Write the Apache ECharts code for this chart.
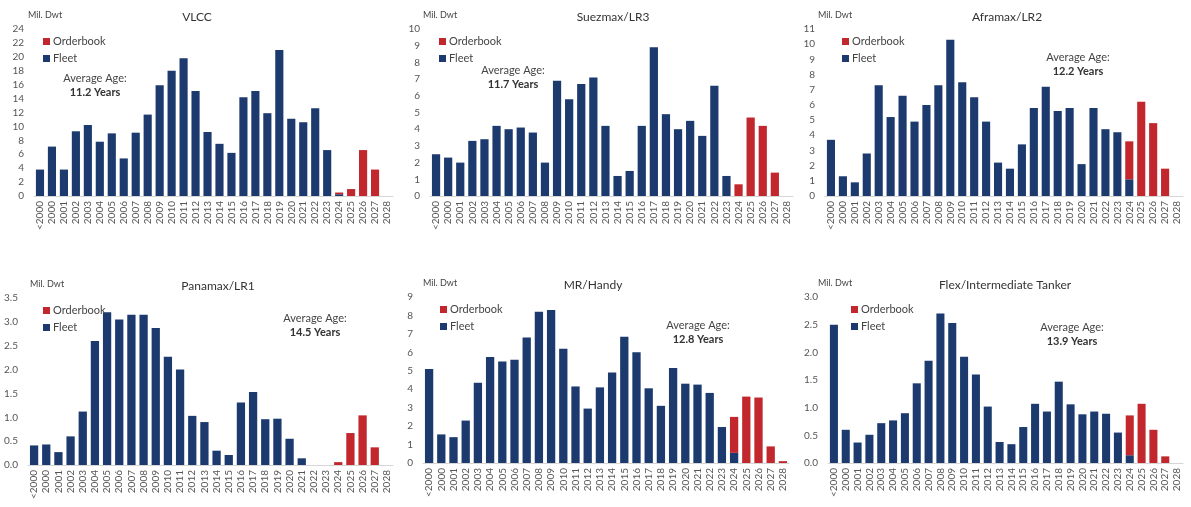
<!DOCTYPE html>
<html>
<head>
<meta charset="utf-8">
<script src="https://cdn.jsdelivr.net/npm/echarts@6/dist/echarts.min.js"></script>
<style>
  html, body { margin: 0; padding: 0; background: #fff; }
  #chart { width: 1191px; height: 507px; }
</style>
</head>
<body>
<div id="chart"></div>
<script>
const categories = ["<2000", "2000", "2001", "2002", "2003", "2004", "2005", "2006", "2007", "2008", "2009",
  "2010", "2011", "2012", "2013", "2014", "2015", "2016", "2017", "2018", "2019",
  "2020", "2021", "2022", "2023", "2024", "2025", "2026", "2027", "2028"];

const vlccFleet = [3.8, 7.1, 3.8, 9.3, 10.2, 7.8, 9.0, 5.4, 9.1, 11.7, 15.9, 18.0, 19.8, 15.1, 9.2, 7.5, 6.2, 14.2, 15.1, 11.9, 21.0, 11.1, 10.6, 12.6, 6.6, 0.25, 0, 0, 0, 0];
const vlccOrder = [0, 0, 0, 0, 0, 0, 0, 0, 0, 0, 0, 0, 0, 0, 0, 0, 0, 0, 0, 0, 0, 0, 0, 0, 0, 0.25, 1.0, 6.6, 3.8, 0];

const suezFleet = [2.5, 2.3, 2.0, 3.3, 3.4, 4.2, 4.0, 4.1, 3.8, 2.0, 6.9, 5.8, 6.7, 7.1, 4.2, 1.2, 1.5, 4.2, 8.9, 4.9, 4.0, 4.5, 3.6, 6.6, 1.2, 0, 0, 0, 0, 0];
const suezOrder = [0, 0, 0, 0, 0, 0, 0, 0, 0, 0, 0, 0, 0, 0, 0, 0, 0, 0, 0, 0, 0, 0, 0, 0, 0, 0.7, 4.7, 4.2, 1.4, 0];

const afraFleet = [3.7, 1.3, 0.9, 2.8, 7.3, 5.2, 6.6, 4.9, 6.0, 7.3, 10.3, 7.5, 6.5, 4.9, 2.2, 1.8, 3.4, 5.8, 7.2, 5.6, 5.8, 2.1, 5.8, 4.4, 4.2, 1.1, 0, 0, 0, 0];
const afraOrder = [0, 0, 0, 0, 0, 0, 0, 0, 0, 0, 0, 0, 0, 0, 0, 0, 0, 0, 0, 0, 0, 0, 0, 0, 0, 2.5, 6.2, 4.8, 1.8, 0];

const panaFleet = [0.41, 0.43, 0.27, 0.6, 1.12, 2.6, 3.2, 3.05, 3.15, 3.15, 2.87, 2.27, 2.0, 1.03, 0.9, 0.3, 0.21, 1.31, 1.53, 0.96, 0.97, 0.55, 0.14, 0, 0, 0, 0, 0, 0, 0];
const panaOrder = [0, 0, 0, 0, 0, 0, 0, 0, 0, 0, 0, 0, 0, 0, 0, 0, 0, 0, 0, 0, 0, 0, 0, 0, 0, 0.06, 0.67, 1.04, 0.37, 0];

const mrFleet = [5.1, 1.55, 1.4, 2.3, 4.35, 5.75, 5.5, 5.6, 6.8, 8.2, 8.3, 6.2, 4.15, 2.95, 4.1, 4.9, 6.85, 6.0, 4.05, 3.1, 5.15, 4.3, 4.25, 3.8, 1.95, 0.55, 0, 0, 0, 0];
const mrOrder = [0, 0, 0, 0, 0, 0, 0, 0, 0, 0, 0, 0, 0, 0, 0, 0, 0, 0, 0, 0, 0, 0, 0, 0, 0, 1.95, 3.6, 3.55, 0.9, 0.1];

const flexFleet = [2.5, 0.6, 0.37, 0.51, 0.72, 0.77, 0.9, 1.44, 1.85, 2.7, 2.53, 1.92, 1.6, 1.02, 0.38, 0.34, 0.65, 1.07, 0.93, 1.47, 1.06, 0.88, 0.93, 0.89, 0.55, 0.14, 0, 0, 0, 0];
const flexOrder = [0, 0, 0, 0, 0, 0, 0, 0, 0, 0, 0, 0, 0, 0, 0, 0, 0, 0, 0, 0, 0, 0, 0, 0, 0, 0.72, 1.07, 0.6, 0.12, 0];

const panelTitles = ["VLCC", "Suezmax/LR3", "Aframax/LR2", "Panamax/LR1", "MR/Handy", "Flex/Intermediate Tanker"];
const averageAges = ["11.2 Years", "11.7 Years", "12.2 Years", "14.5 Years", "12.8 Years", "13.9 Years"];
const yMax = [24, 10, 11, 3.5, 9, 3.0];
const yStep = [2, 1, 1, 0.5, 1, 0.5];
const yDecimals = [0, 0, 0, 1, 0, 1];
const fleetData = [vlccFleet, suezFleet, afraFleet, panaFleet, mrFleet, flexFleet];
const orderData = [vlccOrder, suezOrder, afraOrder, panaOrder, mrOrder, flexOrder];

const FLEET = "#1c3a6e";
const ORDER = "#c1272d";
const FONT = "Lato, 'Open Sans', sans-serif";

// layout of each panel (plot box in px)
const boxes = [
  { left: 34, top: 29, width: 359, height: 167, title: 197, age: [95, 78], legend: 38, unit: 28 },
  { left: 430, top: 29, width: 363, height: 167, title: 613, age: [513, 70], legend: 434, unit: 423 },
  { left: 825, top: 29, width: 358, height: 167, title: 1007, age: [1078, 57], legend: 837, unit: 818 },
  { left: 28, top: 298, width: 365, height: 167, title: 218, age: [315, 318], legend: 38, unit: 30 },
  { left: 423, top: 297, width: 366, height: 166, title: 593, age: [698, 325], legend: 435, unit: 423 },
  { left: 828, top: 297, width: 355, height: 166, title: 1005, age: [1072, 327], legend: 846, unit: 818 }
];

const grid = [], xAxis = [], yAxis = [], series = [], legend = [], graphic = [];

boxes.forEach((b, i) => {
  grid.push({ left: b.left, top: b.top, width: b.width, height: b.height });
  xAxis.push({
    type: "category",
    gridIndex: i,
    data: categories,
    axisTick: { show: false },
    axisLine: { lineStyle: { color: "#d6d6d6", width: 1 } },
    axisLabel: { interval: 0, rotate: 90, color: "#555", fontSize: 10, fontFamily: FONT, margin: 5 }
  });
  yAxis.push({
    type: "value",
    gridIndex: i,
    min: 0,
    max: yMax[i],
    interval: yStep[i],
    splitLine: { show: false },
    axisLine: { show: false },
    axisTick: { show: false },
    axisLabel: {
      color: "#555", fontSize: 10, fontFamily: FONT, margin: 10,
      formatter: (v) => v.toFixed(yDecimals[i])
    }
  });
  series.push({
    name: "Fleet", type: "bar", xAxisIndex: i, yAxisIndex: i, stack: "s" + i,
    data: fleetData[i], barWidth: "68%", itemStyle: { color: FLEET }
  });
  series.push({
    name: "Orderbook", type: "bar", xAxisIndex: i, yAxisIndex: i, stack: "s" + i,
    data: orderData[i], barWidth: "68%", itemStyle: { color: ORDER }
  });
  legend.push({
    data: ["Orderbook", "Fleet"],
    orient: "vertical",
    left: b.legend,
    top: b.top + 2,
    icon: "rect",
    itemWidth: 7,
    itemHeight: 7,
    itemGap: 6,
    selectedMode: false,
    textStyle: { color: "#444", fontSize: 11, fontFamily: FONT, padding: [0, 0, 0, -2] }
  });
  // text elements centred on their x
  graphic.push({
    type: "text", x: b.title, y: b.top - 12,
    style: { text: panelTitles[i], fill: "#333", font: "12px " + FONT, align: "center", verticalAlign: "middle" }
  });
  graphic.push({
    type: "text", x: b.unit, y: b.top - 14,
    style: { text: "Mil. Dwt", fill: "#444", font: "9px " + FONT, verticalAlign: "middle" }
  });
  graphic.push({
    type: "text", x: b.age[0], y: b.age[1],
    style: { text: "Average Age:", fill: "#444", font: "11px " + FONT, align: "center", verticalAlign: "middle" }
  });
  graphic.push({
    type: "text", x: b.age[0], y: b.age[1] + 14,
    style: { text: averageAges[i], fill: "#333", font: "bold 11px " + FONT, align: "center", verticalAlign: "middle" }
  });
});

const chart = echarts.init(document.getElementById("chart"));
chart.setOption({
  backgroundColor: "#fff",
  animation: false,
  grid, xAxis, yAxis, series, legend, graphic
});
</script>
</body>
</html>
